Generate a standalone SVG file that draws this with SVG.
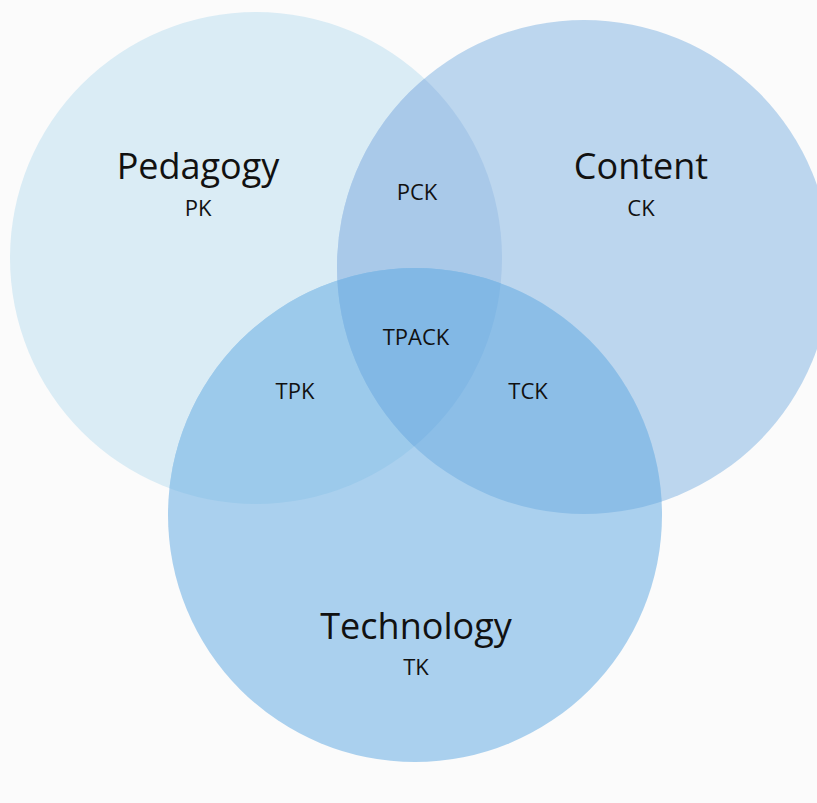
<svg xmlns="http://www.w3.org/2000/svg" width="817" height="803" viewBox="0 0 817 803">
<style>
.big{font-family:"Open Sans","Liberation Sans",sans-serif;font-size:36px;fill:#111;text-anchor:middle}
.sm{font-family:"Open Sans","Liberation Sans",sans-serif;font-size:22px;fill:#111;text-anchor:middle}
</style>
<defs>
<clipPath id="clipP"><circle cx="256" cy="258" r="246"/></clipPath>
<clipPath id="clipC"><circle cx="584" cy="267" r="247"/></clipPath>
</defs>
<rect width="817" height="803" fill="#fbfbfb"/>
<g id="pedagogy">
<circle cx="256" cy="258" r="246" fill="#daecf5"/>
<text class="big" x="198" y="179">Pedagogy</text>
<text class="sm" x="198" y="216">PK</text>
</g>
<g id="content">
<circle cx="584" cy="267" r="247" fill="#bcd6ee"/>
<text class="big" x="641" y="179">Content</text>
<text class="sm" x="641" y="216">CK</text>
</g>
<g id="technology">
<circle cx="415" cy="515" r="247" fill="#aad0ee"/>
<text class="big" x="416" y="639">Technology</text>
<text class="sm" x="416" y="675">TK</text>
</g>
<g id="pck">
<circle cx="584" cy="267" r="247" fill="#a9c9e9" clip-path="url(#clipP)"/>
</g>
<g id="tpk">
<circle cx="415" cy="515" r="247" fill="#9ccaeb" clip-path="url(#clipP)"/>
</g>
<g id="tck">
<circle cx="415" cy="515" r="247" fill="#8cbee7" clip-path="url(#clipC)"/>
</g>
<g id="tpack">
<g clip-path="url(#clipP)"><circle cx="415" cy="515" r="247" fill="#82b8e5" clip-path="url(#clipC)"/></g>
</g>
<g id="labels">
<text class="sm" x="417" y="200">PCK</text>
<text class="sm" x="416" y="345">TPACK</text>
<text class="sm" x="295" y="399">TPK</text>
<text class="sm" x="528" y="399">TCK</text>
</g>
</svg>
